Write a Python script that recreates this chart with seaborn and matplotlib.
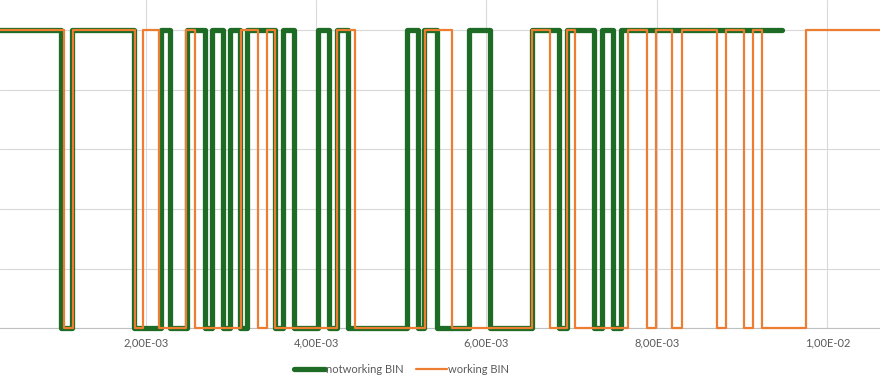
import numpy as np
import matplotlib.pyplot as plt
import seaborn as sns
from matplotlib.ticker import FuncFormatter, MultipleLocator

# switching times (in ms, i.e. x 1e-3) and the state held from that time on
notworking_t = [0, 1.006, 1.135, 1.863, 2.180, 2.285, 2.485, 2.696, 2.778, 2.907, 2.989,
                3.107, 3.189, 3.518, 3.611, 3.741, 4.022, 4.151, 4.245, 4.374, 5.067,
                5.196, 5.266, 5.419, 5.795, 6.041, 6.534, 6.851, 6.945, 7.262, 7.356,
                7.485, 7.579, 9.468]
notworking_bin = [1, 0, 1, 0, 1, 0, 1, 0, 1, 0, 1, 0, 1, 0, 1, 0, 1, 0, 1, 0, 1,
                  0, 1, 0, 1, 0, 1, 0, 1, 0, 1, 0, 1, 1]

working_t = [0, 1.041, 1.147, 1.874, 1.968, 2.162, 2.473, 2.579, 3.119, 3.318, 3.424,
             3.518, 4.245, 4.457, 5.278, 5.595, 6.534, 6.745, 6.945, 7.039, 7.661,
             7.884, 7.989, 8.177, 8.295, 8.705, 8.811, 9.022, 9.128, 9.234, 9.750, 11.0]
working_bin = [1, 0, 1, 0, 1, 0, 1, 0, 1, 0, 1, 0, 1, 0, 1, 0, 1, 0, 1, 0, 1,
               0, 1, 0, 1, 0, 1, 0, 1, 0, 1, 1]

green = '#1e6b25'
orange = '#ed7d31'
grey_text = '#595959'

sns.set_style('white')
plt.rcParams['font.family'] = ['Lato', 'DejaVu Sans']

fig = plt.figure(figsize=(8.8, 3.84), dpi=100)
ax = fig.add_axes([0, 1 - 328.3 / 384, 1, 328.3 / 384])

sns.lineplot(x=np.array(notworking_t) * 1e-3, y=notworking_bin, ax=ax, color=green,
             linewidth=3.8, drawstyle='steps-post', solid_capstyle='round',
             solid_joinstyle='round', estimator=None, sort=False,
             label='notworking BIN', clip_on=False, zorder=3)
sns.lineplot(x=np.array(working_t) * 1e-3, y=working_bin, ax=ax, color=orange,
             linewidth=1.6, drawstyle='steps-post', estimator=None, sort=False,
             label='working BIN', clip_on=False, zorder=4)

ax.set_xlim(0.290e-3, 10.619e-3)
ax.set_ylim(0, 1.1006)
ax.xaxis.set_major_locator(MultipleLocator(0.002))
ax.yaxis.set_major_locator(MultipleLocator(0.2))
ax.xaxis.set_major_formatter(FuncFormatter(lambda v, p: f"{v:.2E}".replace('.', ',')))
ax.grid(True, color='#d9d9d9', linewidth=0.8)
ax.set_axisbelow(True)
for side in ['top', 'left', 'right']:
    ax.spines[side].set_visible(False)
ax.spines['bottom'].set_color('#bfbfbf')
ax.spines['bottom'].set_linewidth(0.8)
ax.tick_params(axis='x', length=0, pad=6.5, labelsize=8, labelcolor=grey_text)
ax.tick_params(axis='y', length=0, labelleft=False)
ax.set_xlabel('')
ax.set_ylabel('')

leg = ax.legend(loc='center', bbox_to_anchor=(0.456, 0.039), bbox_transform=fig.transFigure,
                ncol=2, frameon=False, handlelength=2.8, handletextpad=0.1,
                columnspacing=1.1, fontsize=8)
for t in leg.get_texts():
    t.set_color(grey_text)

fig.savefig('out.png', dpi=100)
